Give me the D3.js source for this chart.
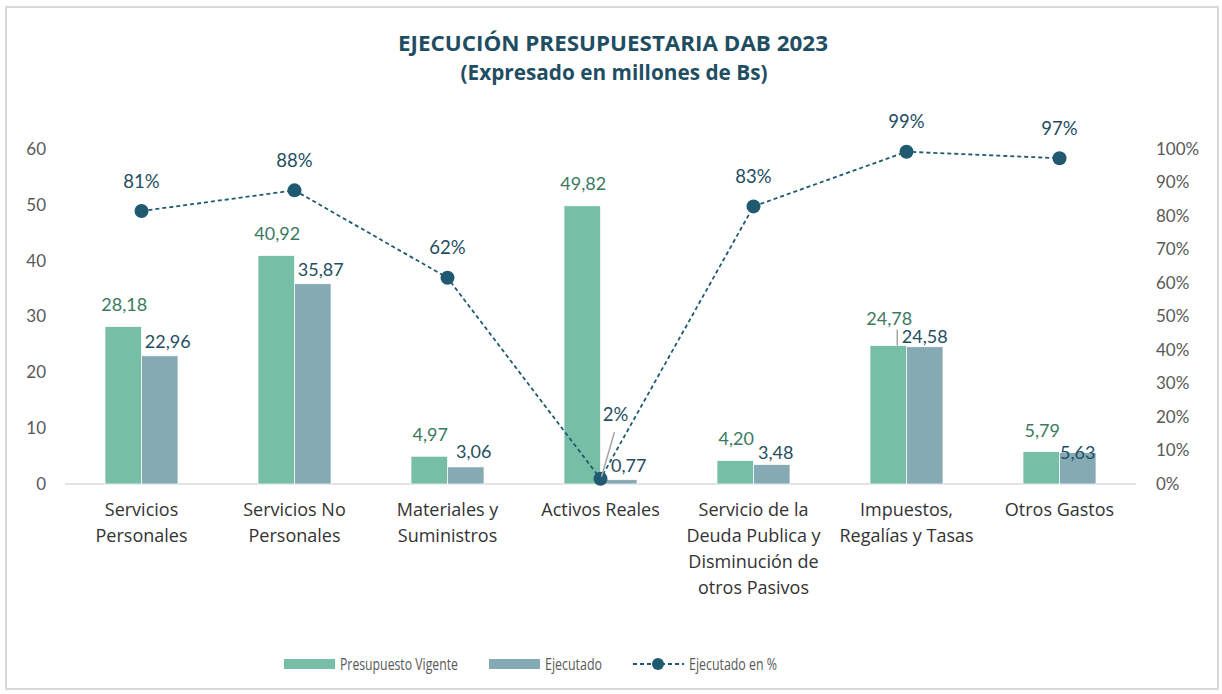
<!DOCTYPE html>
<meta charset="utf-8">
<html>
  <head>
    <title>Ejecución presupuestaria DAB 2023</title>
    <style>
      body { margin: 0; background: #fff; }
      svg { font-family: Lato, "Open Sans", sans-serif; }
      .title { fill: #1f4e63; font-weight: bold; font-size: 21px; font-family: "Open Sans", sans-serif; }
      .axis text { fill: #595959; font-size: 17px; }
      .cat { fill: #333; font-size: 18px; font-family: "Open Sans", sans-serif; }
      .lbl-pv { fill: #3b7a5f; font-size: 18px; }
      .lbl-ej { fill: #1f4e63; font-size: 18px; }
      .lbl-pct { fill: #1f4e63; font-size: 18.5px; }
      .legend text { fill: #595959; font-size: 17px; font-family: "Open Sans", sans-serif; }
    </style>
  </head>
  <body>
    <script src="https://cdn.jsdelivr.net/npm/d3@7"></script>
    <script>

      var categories = [
        ["Servicios", "Personales"],
        ["Servicios No", "Personales"],
        ["Materiales y", "Suministros"],
        ["Activos Reales"],
        ["Servicio de la", "Deuda Publica y", "Disminución  de", "otros Pasivos"],
        ["Impuestos,", "Regalías y Tasas"],
        ["Otros Gastos"]
      ];
      var presupuesto = [28.18, 40.92, 4.97, 49.82, 4.20, 24.78, 5.79];
      var ejecutado = [22.96, 35.87, 3.06, 0.77, 3.48, 24.58, 5.63];
      var ejecutadoPct = [0.8148, 0.8766, 0.6157, 0.0155, 0.8286, 0.9919, 0.9724];
      var leftTicks = [0, 10, 20, 30, 40, 50, 60];
      var rightTicks = [0, 0.1, 0.2, 0.3, 0.4, 0.5, 0.6, 0.7, 0.8, 0.9, 1];

      var width = 1222, height = 694;
      var green = "#77bea7", blue = "#85aab4", dark = "#1f5a70";

      var svg = d3.select("body").append("svg")
          .attr("width", width)
          .attr("height", height);

      // outer frame
      svg.append("rect")
          .attr("x", 6).attr("y", 7)
          .attr("width", 1212).attr("height", 682)
          .attr("fill", "none")
          .attr("stroke", "#d9d9d9")
          .attr("stroke-width", 2);

      svg.append("text").attr("class", "title")
          .attr("x", 613).attr("y", 51)
          .attr("text-anchor", "middle")
          .attr("textLength", 430).attr("lengthAdjust", "spacingAndGlyphs")
          .text("EJECUCIÓN PRESUPUESTARIA DAB 2023");
      svg.append("text").attr("class", "title")
          .attr("x", 614).attr("y", 80)
          .attr("text-anchor", "middle")
          .attr("textLength", 307).attr("lengthAdjust", "spacingAndGlyphs")
          .text("(Expresado en millones de Bs)");

      var idx = d3.range(categories.length);

      var x = d3.scaleBand().domain(idx).range([65, 1136])
          .paddingInner(0.523).paddingOuter(0.2615);
      var xs = d3.scaleBand().domain(["pv", "ej"]).range([0, x.bandwidth()]);
      var y = d3.scaleLinear().domain([0, 60]).range([484, 149]);
      var y2 = d3.scaleLinear().domain([0, 1]).range([484, 149]);

      // baseline
      svg.append("line")
          .attr("x1", 65).attr("x2", 1136)
          .attr("y1", y(0)).attr("y2", y(0))
          .attr("stroke", "#d9d9d9").attr("stroke-width", 1.5);

      var leftAxis = svg.append("g").attr("class", "axis")
          .attr("transform", "translate(46,0)")
          .call(d3.axisLeft(y).tickValues(leftTicks).tickSize(0).tickPadding(0));
      leftAxis.select(".domain").remove();

      var rightAxis = svg.append("g").attr("class", "axis")
          .attr("transform", "translate(1156,0)")
          .call(d3.axisRight(y2).tickValues(rightTicks).tickSize(0).tickPadding(0)
            .tickFormat(d3.format(".0%")));
      rightAxis.select(".domain").remove();
      svg.selectAll(".axis text").style("font-family", "Lato, sans-serif");

      // bars
      var groups = svg.selectAll(".grp").data(idx).enter().append("g")
          .attr("transform", function(i) { return "translate(" + x(i) + ",0)"; });

      groups.append("rect")
          .attr("x", xs("pv")).attr("width", xs.bandwidth())
          .attr("y", function(i) { return y(presupuesto[i]); })
          .attr("height", function(i) { return y(0) - y(presupuesto[i]); })
          .attr("fill", green)
          .attr("stroke", "#fff").attr("stroke-width", 0.7);

      groups.append("rect")
          .attr("x", xs("ej")).attr("width", xs.bandwidth())
          .attr("y", function(i) { return y(ejecutado[i]); })
          .attr("height", function(i) { return y(0) - y(ejecutado[i]); })
          .attr("fill", blue)
          .attr("stroke", "#fff").attr("stroke-width", 0.7);

      var fmt = function(v) { return d3.format(".2f")(v).replace(".", ","); };

      // label nudges (label centre offset from bar top / point)
      var pvDy = [-22, -22, -22, -22, -22, -27, -21];
      var ejDx = [8, 8, 8, 10, 4, 0, 0];
      var ejDy = [-14, -14, -15, -14, -12, -10, 0];

      groups.append("text").attr("class", "lbl-pv")
          .attr("x", xs("pv") + xs.bandwidth() / 2 + 1)
          .attr("y", function(i) { return y(presupuesto[i]) + pvDy[i]; })
          .attr("dy", "0.35em")
          .attr("text-anchor", "middle")
          .text(function(i) { return fmt(presupuesto[i]); });

      groups.append("text").attr("class", "lbl-ej")
          .attr("x", function(i) { return xs("ej") + xs.bandwidth() / 2 + ejDx[i]; })
          .attr("y", function(i) { return y(ejecutado[i]) + ejDy[i]; })
          .attr("dy", "0.35em")
          .attr("text-anchor", "middle")
          .text(function(i) { return fmt(ejecutado[i]); });

      // leader line for Impuestos presupuesto label
      svg.append("line")
          .attr("x1", x(5) + xs.bandwidth() / 2 + 9).attr("x2", x(5) + xs.bandwidth() / 2 + 9)
          .attr("y1", y(presupuesto[5]) - 16).attr("y2", y(presupuesto[5]))
          .attr("stroke", "#a6a6a6").attr("stroke-width", 1.5);

      // category labels
      var cx = function(i) { return x(i) + x.bandwidth() / 2; };
      var cat = svg.selectAll(".cat").data(idx).enter().append("text")
          .attr("class", "cat")
          .attr("text-anchor", "middle")
          .attr("x", cx)
          .attr("y", 516);
      cat.selectAll("tspan").data(function(i) { return categories[i].map(function(t) { return {t: t, i: i}; }); })
        .enter().append("tspan")
          .attr("x", function(d) { return cx(d.i); })
          .attr("dy", function(d, k) { return k === 0 ? 0 : 26; })
          .text(function(d) { return d.t; });

      // percent line
      var line = d3.line()
          .x(function(i) { return cx(i); })
          .y(function(i) { return y2(ejecutadoPct[i]); });

      svg.append("path")
          .datum(idx)
          .attr("d", line)
          .attr("fill", "none")
          .attr("stroke", dark)
          .attr("stroke-width", 1.8)
          .attr("stroke-dasharray", "4,3");

      svg.selectAll(".pt").data(idx).enter().append("circle")
          .attr("cx", cx)
          .attr("cy", function(i) { return y2(ejecutadoPct[i]); })
          .attr("r", 7)
          .attr("fill", dark);

      // leader for 2% label
      svg.append("line")
          .attr("x1", cx(3) + 14).attr("y1", 432)
          .attr("x2", cx(3) + 1).attr("y2", y2(ejecutadoPct[3]) - 2)
          .attr("stroke", "#a6a6a6").attr("stroke-width", 1.5);

      svg.selectAll(".lbl-pct").data(idx).enter().append("text")
          .attr("class", "lbl-pct")
          .attr("text-anchor", "middle")
          .attr("x", function(i) { return i === 3 ? cx(i) + 15 : cx(i); })
          .attr("y", function(i) { return i === 3 ? 415 : y2(ejecutadoPct[i]) - 30; })
          .attr("dy", "0.35em")
          .text(function(i) { return d3.format(".0%")(ejecutadoPct[i]); });

      // legend
      var lg = svg.append("g").attr("class", "legend");
      lg.append("rect").attr("x", 284).attr("y", 659).attr("width", 51).attr("height", 10).attr("fill", green);
      lg.append("text").attr("x", 340).attr("y", 664).attr("dy", "0.35em")
          .attr("textLength", 118).attr("lengthAdjust", "spacingAndGlyphs").text("Presupuesto Vigente");
      lg.append("rect").attr("x", 489).attr("y", 659).attr("width", 51).attr("height", 10).attr("fill", blue);
      lg.append("text").attr("x", 545).attr("y", 664).attr("dy", "0.35em")
          .attr("textLength", 57).attr("lengthAdjust", "spacingAndGlyphs").text("Ejecutado");
      lg.append("line").attr("x1", 633).attr("x2", 684).attr("y1", 664).attr("y2", 664)
          .attr("stroke", dark).attr("stroke-width", 1.8).attr("stroke-dasharray", "4,3");
      lg.append("circle").attr("cx", 658).attr("cy", 664).attr("r", 6).attr("fill", dark);
      lg.append("text").attr("x", 689).attr("y", 664).attr("dy", "0.35em")
          .attr("textLength", 88).attr("lengthAdjust", "spacingAndGlyphs").text("Ejecutado en %");

    </script>
  </body>
</html>
